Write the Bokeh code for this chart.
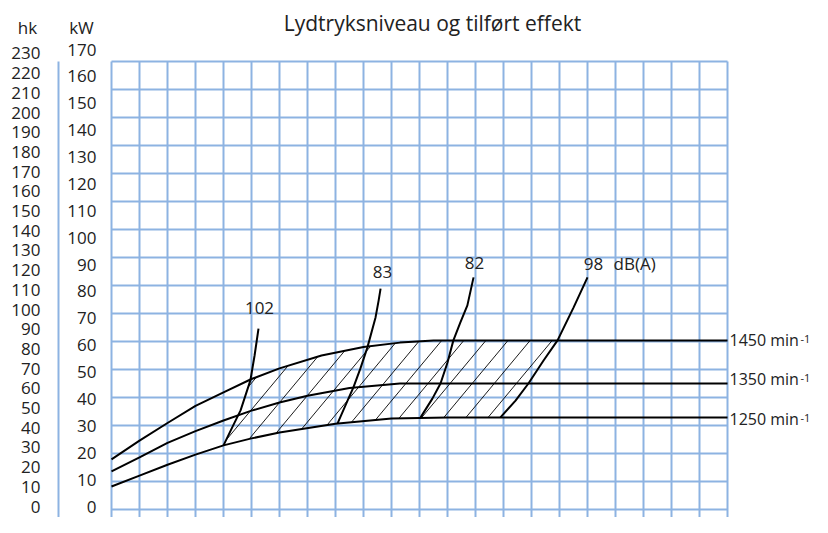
import numpy as np
from bokeh.plotting import figure
from bokeh.models import Range1d, LinearAxis, FixedTicker
from bokeh.core.properties import value
from bokeh.embed import file_html
from bokeh.resources import INLINE

# ---------------- data ----------------
title_text = "Lydtryksniveau og tilført effekt"
kw_ticks = list(range(0, 171, 10))
hk_ticks = list(range(0, 231, 10))
grid_cols = list(range(0, 23))
grid_kw = list(range(-5, 166, 10))

# speed curves (x in grid columns, y in kW)
top_x = [0, 1, 2, 3, 4, 5, 6, 7.5, 9, 10.3, 11.5, 22]
top_kw = [22.9, 29.6, 35.9, 42.0, 46.8, 51.6, 55.4, 60.0, 63.0, 64.6, 65.4, 65.4]
mid_x = [0, 1, 2, 3, 4, 5, 6, 7, 8.5, 10.3, 22]
mid_kw = [18.6, 23.6, 28.8, 33.0, 36.8, 40.3, 43.2, 45.6, 48.4, 50.0, 50.0]
bot_x = [0, 1, 2, 3, 4, 5, 6, 8, 10, 12, 22]
bot_kw = [13.2, 17.1, 21.0, 24.6, 27.9, 30.4, 32.5, 35.6, 37.5, 37.9, 37.9]
speed_labels = ["1450 min", "1350 min", "1250 min"]
speed_sup = ["-1", "-1", "-1"]

# sound level lines
db102_x = [4.0, 4.29, 4.61, 4.96, 5.11, 5.25]
db102_kw = [27.9, 33.9, 40.4, 51.1, 60.0, 69.6]
db83_x = [8.07, 8.43, 8.64, 8.89, 9.14, 9.43, 9.54, 9.61]
db83_kw = [35.7, 43.9, 48.6, 55.4, 62.9, 73.6, 79.6, 83.9]
db82_x = [11.04, 11.46, 11.75, 12.0, 12.21, 12.46, 12.71, 12.93]
db82_kw = [37.9, 44.6, 50.0, 57.5, 65.4, 71.8, 77.9, 87.9]
db98_x = [13.89, 14.43, 14.89, 15.43, 15.93, 16.5, 17.0]
db98_kw = [37.9, 43.9, 50.0, 58.2, 65.4, 77.1, 87.9]
db_labels = ["102", "83", "82", "98"]
db_unit = "dB(A)"

# ---------------- layout helpers (picture pixels -> data) ----------------
W, H = 812, 517

def X(px):
    return (px - 111) / 28.0

def Y(py):
    return (523 - py) / 2.8

def HK(py):          # hk tick-label scale
    return (506 - py) / 1.9696

def KWL(py):         # kW tick-label scale
    return (506 - py) / 2.688

FONT = value("Open Sans")
TXT = "#222222"
GRID = "#8DB3E2"

p = figure(width=W, height=H, x_range=Range1d(X(0), X(W)),
           y_range=Range1d(Y(H), Y(0)), output_backend="svg",
           toolbar_location=None, min_border=0,
           x_axis_location=None, y_axis_location=None)
p.outline_line_color = None
p.background_fill_color = "white"
p.border_fill_color = "white"
p.grid.visible = False
p.extra_y_ranges = {"hk": Range1d(HK(H), HK(0)), "kwlab": Range1d(KWL(H), KWL(0))}

# axes (fixed inside the canvas)
kw_axis = LinearAxis(y_range_name="kwlab", ticker=FixedTicker(ticks=kw_ticks),
                     fixed_location=X(111),
                     axis_line_color=None, major_tick_line_color=None,
                     minor_tick_line_color=None, major_tick_out=0, major_tick_in=0,
                     major_label_standoff=15, major_label_text_font="Open Sans",
                     major_label_text_font_size="17px", major_label_text_color=TXT)
p.add_layout(kw_axis, "left")
hk_axis = LinearAxis(y_range_name="hk", ticker=FixedTicker(ticks=hk_ticks),
                     fixed_location=X(58), axis_line_color=None,
                     major_tick_line_color=None, minor_tick_line_color=None,
                     major_tick_out=0, major_tick_in=0, major_label_standoff=18,
                     major_label_text_font="Open Sans",
                     major_label_text_font_size="17px", major_label_text_color=TXT)
p.add_layout(hk_axis, "left")

# grid
gx0 = [c for c in grid_cols]
p.segment(x0=gx0, y0=[grid_kw[0] - 3] * len(gx0), x1=gx0, y1=[grid_kw[-1]] * len(gx0),
          line_color=GRID, line_width=2)
p.segment(x0=[grid_cols[0]] * len(grid_kw), y0=grid_kw, x1=[grid_cols[-1]] * len(grid_kw),
          y1=grid_kw, line_color=GRID, line_width=2)
p.segment(x0=[X(58)], y0=[grid_kw[-1]], x1=[X(58)], y1=[grid_kw[0] - 3],
          line_color=GRID, line_width=2)

# ---------------- hatch region ----------------
def densify(xs, ys, n=60):
    ox, oy = [], []
    for i in range(len(xs) - 1):
        t = np.linspace(0, 1, n, endpoint=False)
        ox.extend(xs[i] + t * (xs[i + 1] - xs[i]))
        oy.extend(ys[i] + t * (ys[i + 1] - ys[i]))
    ox.append(xs[-1]); oy.append(ys[-1])
    return np.array(ox), np.array(oy)

def cut_at_top(lx, ly):
    dx, dy = densify(lx, ly)
    top = np.interp(dx, top_x, top_kw)
    idx = int(np.argmax(dy >= top))
    cx = list(dx[:idx + 1]); cy = list(dy[:idx]) + [top[idx]]
    return cx, cy

ax, ay = cut_at_top(db102_x, db102_kw)
bx, by = cut_at_top(db98_x, db98_kw)
tx = [x for x in top_x if ax[-1] < x < bx[-1]]
ty = list(np.interp(tx, top_x, top_kw))
bt = [x for x in bot_x if db102_x[0] < x < db98_x[0]][::-1]
bty = list(np.interp(bt, bot_x, bot_kw))
poly_x = ax + tx + bx[::-1] + bt
poly_y = ay + ty + by[::-1] + bty

PXs = np.array(poly_x) * 28.0
PYs = np.array(poly_y) * 2.8
slope = 1.2
cvals = PXs - PYs / slope
c0 = 133.5
spacing = 22.1
ks = np.arange(np.floor((cvals.min() - c0) / spacing), np.ceil((cvals.max() - c0) / spacing) + 1)
hxs, hys = [], []
n = len(PXs)
for k in ks:
    c = c0 + k * spacing
    f = PYs - slope * (PXs - c)
    hits = []
    for i in range(n):
        j = (i + 1) % n
        if (f[i] > 0) != (f[j] > 0):
            t = f[i] / (f[i] - f[j])
            hits.append(PXs[i] + t * (PXs[j] - PXs[i]))
    hits.sort()
    for a in range(0, len(hits) - 1, 2):
        x0, x1 = hits[a], hits[a + 1]
        hxs.append([x0 / 28.0, x1 / 28.0])
        hys.append([slope * (x0 - c) / 2.8, slope * (x1 - c) / 2.8])
p.multi_line(xs=hxs, ys=hys, line_color="black", line_width=0.9)

# speed curves
for xs, ys in ((top_x, top_kw), (mid_x, mid_kw), (bot_x, bot_kw)):
    p.line(xs, ys, line_color="black", line_width=2)

# dB lines
for xs, ys in ((db102_x, db102_kw), (db83_x, db83_kw), (db82_x, db82_kw), (db98_x, db98_kw)):
    p.line(xs, ys, line_color="black", line_width=2)

# ---------------- texts ----------------
p.text(x=[X(432)], y=[Y(22)], text=[title_text], text_font=FONT, text_font_size="21px",
       text_align="center", text_baseline="alphabetic", text_color=TXT)
p.text(x=[X(27), X(81)], y=[Y(26.5), Y(26.5)], text=["hk", "kW"], text_font=FONT,
       text_font_size="17px", text_align="center", text_baseline="alphabetic", text_color=TXT)
p.text(x=[X(259), X(382), X(474), X(593)], y=[Y(307), Y(271), Y(262), Y(263)],
       text=db_labels, text_font=FONT, text_font_size="17px", text_align="center",
       text_baseline="middle", text_color=TXT)
p.text(x=[X(613)], y=[Y(263)], text=[db_unit], text_font=FONT, text_font_size="17px",
       text_align="left", text_baseline="middle", text_color=TXT)
sy = [339.5, 378, 418.5]
p.text(x=[X(729)] * 3, y=[Y(v) for v in sy], text=speed_labels, text_font=FONT,
       text_font_size="16px", text_align="left", text_baseline="middle", text_color=TXT)
p.text(x=[X(800)] * 3, y=[Y(v - 1) for v in sy], text=speed_sup, text_font=FONT,
       text_font_size="11px", text_align="left", text_baseline="alphabetic", text_color=TXT)

open("out.html", "w").write(file_html(p, INLINE))
